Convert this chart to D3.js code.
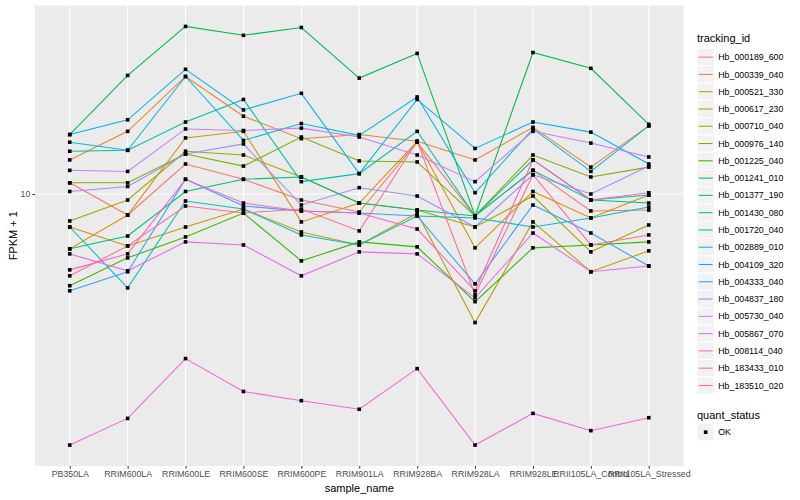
<!DOCTYPE html>
<html>
<head>
<meta charset="utf-8">
<script src="https://cdn.jsdelivr.net/npm/d3@7"></script>
<style>
  body { margin: 0; background: #fff; }
  text { font-family: "Liberation Sans", Arial, sans-serif; }
</style>
</head>
<body>
<div id="canvas"></div>
<script>
const samples = ["PB350LA", "RRIM600LA", "RRIM600LE", "RRIM600SE", "RRIM600PE", "RRIM901LA",
  "RRIM928BA", "RRIM928LA", "RRIM928LE", "RRII105LA_Control", "RRII105LA_Stressed"];

const trackingIds = ["Hb_000189_600", "Hb_000339_040", "Hb_000521_330", "Hb_000617_230",
  "Hb_000710_040", "Hb_000976_140", "Hb_001225_040", "Hb_001241_010", "Hb_001377_190",
  "Hb_001430_080", "Hb_001720_040", "Hb_002889_010", "Hb_004109_320", "Hb_004333_040",
  "Hb_004837_180", "Hb_005730_040", "Hb_005867_070", "Hb_008114_040", "Hb_183433_010",
  "Hb_183510_020"];

// FPKM + 1, one array per tracking_id, in sample order
const hb_000189_600 = [10.9, 8.51, 12.6, 11.2, 9.55, 8.71, 14.9, 8.45, 12.0, 8.78, 8.84];
const hb_000339_040 = [13.0, 16.2, 24.7, 18.2, 15.3, 15.8, 15.0, 13.0, 16.7, 12.3, 16.9];
const hb_000521_330 = [6.56, 8.51, 15.4, 16.2, 8.07, 9.33, 15.0, 6.61, 10.2, 8.32, 9.92];
const hb_000617_230 = [7.76, 6.71, 7.76, 8.91, 7.47, 6.76, 8.64, 3.72, 8.07, 5.50, 6.46];
const hb_000710_040 = [8.13, 9.55, 13.9, 13.5, 11.4, 9.33, 8.84, 7.76, 9.85, 6.41, 7.88];
const hb_000976_140 = [10.9, 10.9, 13.6, 12.4, 15.5, 12.9, 12.8, 8.45, 13.5, 11.4, 12.3];
const hb_001225_040 = [4.94, 6.12, 7.19, 8.64, 5.98, 6.92, 6.66, 4.37, 6.61, 6.76, 6.92];
const hb_001241_010 = [15.8, 24.9, 36.3, 33.9, 36.0, 24.4, 29.5, 8.45, 29.7, 26.3, 17.1];
const hb_001377_190 = [6.56, 7.24, 10.2, 11.2, 11.4, 9.33, 8.84, 8.45, 13.0, 9.55, 9.33];
const hb_001430_080 = [13.9, 14.0, 17.4, 20.7, 11.0, 11.7, 16.2, 8.45, 12.0, 9.55, 9.92];
const hb_001720_040 = [7.76, 4.86, 9.48, 8.91, 7.30, 6.76, 8.45, 8.32, 7.76, 8.32, 9.05];
const hb_002889_010 = [14.9, 14.0, 24.7, 15.1, 17.2, 15.7, 21.1, 10.1, 16.5, 11.9, 16.9];
const hb_004109_320 = [15.8, 17.7, 26.1, 19.1, 21.7, 11.7, 20.7, 14.2, 17.4, 16.1, 12.6];
const hb_004333_040 = [4.75, 5.50, 11.2, 9.12, 8.78, 8.64, 8.45, 5.01, 9.19, 7.41, 5.75];
const hb_004837_180 = [10.2, 10.6, 13.6, 14.7, 9.19, 10.5, 9.85, 7.76, 11.6, 10.0, 12.4];
const hb_005730_040 = [12.0, 11.9, 16.5, 16.3, 16.6, 15.5, 13.5, 11.0, 16.2, 14.8, 13.3];
const hb_005867_070 = [6.31, 5.54, 6.92, 6.76, 5.33, 6.41, 6.31, 4.50, 7.41, 5.50, 5.75];
const hb_008114_040 = [1.45, 1.78, 2.82, 2.19, 2.04, 1.91, 2.61, 1.45, 1.85, 1.62, 1.79];
const hb_183433_010 = [5.58, 6.31, 11.2, 9.33, 8.78, 8.64, 7.64, 4.75, 13.0, 9.55, 10.1];
const hb_183510_020 = [5.33, 6.71, 9.12, 8.64, 8.91, 7.53, 15.0, 4.61, 11.6, 6.76, 7.30];

const seriesValues = [hb_000189_600, hb_000339_040, hb_000521_330, hb_000617_230, hb_000710_040,
  hb_000976_140, hb_001225_040, hb_001241_010, hb_001377_190, hb_001430_080, hb_001720_040,
  hb_002889_010, hb_004109_320, hb_004333_040, hb_004837_180, hb_005730_040, hb_005867_070,
  hb_008114_040, hb_183433_010, hb_183510_020];

const yTicks = [10];
const statusLabels = ["OK"];

// ggplot hue palette for 20 groups
const colors = ["#F8766D", "#EA8331", "#D89000", "#C09B00", "#A3A500", "#7CAE00", "#39B600",
  "#00BB4E", "#00BF7D", "#00C1A3", "#00BFC4", "#00BAE0", "#00B0F6", "#35A2FF", "#9590FF",
  "#C77CFF", "#E76BF3", "#FA62DB", "#FF62BC", "#FF6C91"];

const width = 800;
const height = 500;
const panel = { left: 35, right: 683.5, top: 5.5, bottom: 466 };

const svg = d3.select("#canvas").append("svg")
  .attr("width", width)
  .attr("height", height);

const series = trackingIds.map((id, i) => ({
  id: id,
  color: colors[i],
  points: samples.map((s, j) => ({ sample: s, value: seriesValues[i][j] }))
}));

const x = d3.scalePoint()
  .domain(samples)
  .range([panel.left, panel.right])
  .padding(0.6);

// log scale with ggplot style 5% expansion in log space
const allVals = seriesValues.flat();
const lo = Math.log10(d3.min(allVals));
const hi = Math.log10(d3.max(allVals));
const pad = (hi - lo) * 0.05;
const y = d3.scaleLog()
  .domain([Math.pow(10, lo - pad), Math.pow(10, hi + pad)])
  .range([panel.bottom, panel.top]);

// panel background
svg.append("rect")
  .attr("x", panel.left)
  .attr("y", panel.top)
  .attr("width", panel.right - panel.left)
  .attr("height", panel.bottom - panel.top)
  .attr("fill", "#EBEBEB");

const grid = svg.append("g");
grid.selectAll("line.gy")
  .data(yTicks)
  .enter().append("line")
  .attr("x1", panel.left).attr("x2", panel.right)
  .attr("y1", d => y(d)).attr("y2", d => y(d))
  .attr("stroke", "#fff").attr("stroke-width", 1.07);
grid.selectAll("line.gx")
  .data(samples)
  .enter().append("line")
  .attr("x1", d => x(d)).attr("x2", d => x(d))
  .attr("y1", panel.top).attr("y2", panel.bottom)
  .attr("stroke", "#fff").attr("stroke-width", 1.07);

// lines
const line = d3.line()
  .x(d => x(d.sample))
  .y(d => y(d.value));

svg.append("g").selectAll("path")
  .data(series)
  .enter().append("path")
  .attr("d", d => line(d.points))
  .attr("fill", "none")
  .attr("stroke", d => d.color)
  .attr("stroke-width", 1.07);

// points (all quant_status OK -> black squares)
const ps = 3.6;
svg.append("g").selectAll("g")
  .data(series)
  .enter().append("g")
  .selectAll("rect")
  .data(d => d.points)
  .enter().append("rect")
  .attr("x", d => x(d.sample) - ps / 2)
  .attr("y", d => y(d.value) - ps / 2)
  .attr("width", ps)
  .attr("height", ps)
  .attr("fill", "#000");

// axes
const xAxis = svg.append("g")
  .attr("transform", `translate(0,${panel.bottom})`)
  .call(d3.axisBottom(x).tickSize(2.7).tickPadding(2));
xAxis.select(".domain").remove();
xAxis.selectAll("line").attr("stroke", "#333");
xAxis.selectAll("text").attr("fill", "#4D4D4D").attr("font-size", "8.8px");

const yAxis = svg.append("g")
  .attr("transform", `translate(${panel.left},0)`)
  .call(d3.axisLeft(y).tickValues(yTicks).tickFormat(d3.format("d")).tickSize(2.7).tickPadding(2));
yAxis.select(".domain").remove();
yAxis.selectAll("line").attr("stroke", "#333");
yAxis.selectAll("text").attr("fill", "#4D4D4D").attr("font-size", "8.8px");

svg.append("text")
  .attr("x", (panel.left + panel.right) / 2)
  .attr("y", 492)
  .attr("text-anchor", "middle")
  .attr("font-size", "11px")
  .text("sample_name");

svg.append("text")
  .attr("transform", `translate(17,${(panel.top + panel.bottom) / 2}) rotate(-90)`)
  .attr("text-anchor", "middle")
  .attr("font-size", "11px")
  .text("FPKM + 1");

// legend: tracking_id
const lg = svg.append("g").attr("transform", "translate(697,0)");
const keyH = 17.28;
const keyTop = 48.5;
lg.append("text")
  .attr("x", 0).attr("y", 42)
  .attr("font-size", "11px")
  .text("tracking_id");

const items = lg.selectAll("g.item")
  .data(series)
  .enter().append("g")
  .attr("transform", (d, i) => `translate(0,${keyTop + i * keyH})`);
items.append("rect")
  .attr("width", keyH).attr("height", keyH)
  .attr("fill", "#F2F2F2").attr("stroke", "#fff").attr("stroke-width", 1);
items.append("line")
  .attr("x1", 1.7).attr("x2", keyH - 1.7)
  .attr("y1", keyH / 2).attr("y2", keyH / 2)
  .attr("stroke", d => d.color).attr("stroke-width", 1.07);
items.append("text")
  .attr("x", keyH + 4).attr("y", keyH / 2 + 3.1)
  .attr("font-size", "8.8px")
  .text(d => d.id);

// legend: quant_status
const lg2 = svg.append("g").attr("transform", "translate(697,0)");
lg2.append("text")
  .attr("x", 0).attr("y", 419)
  .attr("font-size", "11px")
  .text("quant_status");
const st = lg2.selectAll("g.st")
  .data(statusLabels)
  .enter().append("g")
  .attr("transform", (d, i) => `translate(0,${423.5 + i * keyH})`);
st.append("rect")
  .attr("width", keyH).attr("height", keyH)
  .attr("fill", "#F2F2F2").attr("stroke", "#fff").attr("stroke-width", 1);
st.append("rect")
  .attr("x", keyH / 2 - ps / 2).attr("y", keyH / 2 - ps / 2)
  .attr("width", ps).attr("height", ps)
  .attr("fill", "#000");
st.append("text")
  .attr("x", keyH + 4).attr("y", keyH / 2 + 3.1)
  .attr("font-size", "8.8px")
  .text(d => d);
</script>
</body>
</html>
